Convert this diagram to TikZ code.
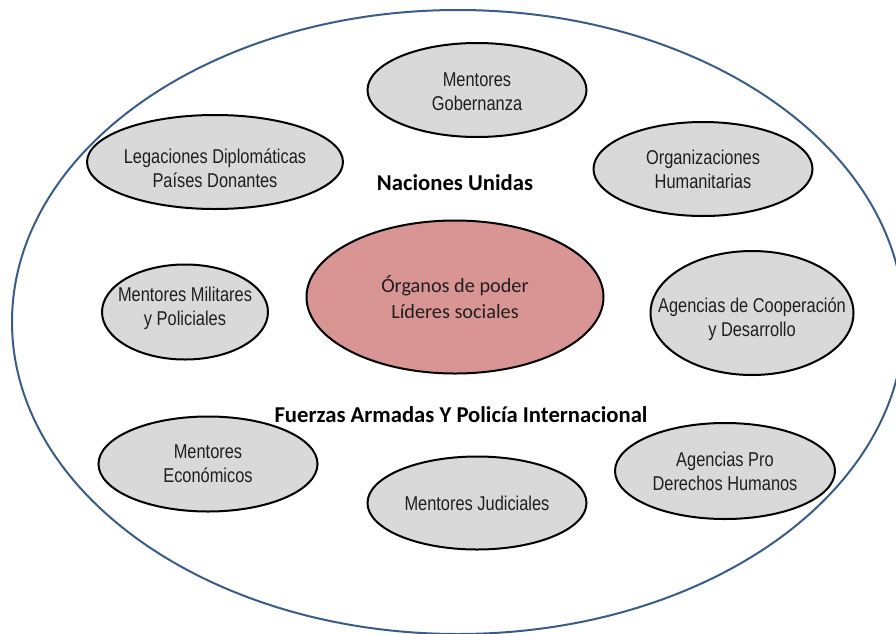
\documentclass[tikz,border=0pt]{standalone}
\usepackage{fontspec}
\usepackage{tikz}
\usetikzlibrary{shapes.geometric}
\newfontfamily\narrowfont{Liberation Sans}[FakeStretch=0.82]
\newfontfamily\calibrifont{Carlito}
\definecolor{marcoazul}{RGB}{56,93,138}
\definecolor{actorgris}{RGB}{217,217,217}
\definecolor{nucleorojo}{RGB}{217,149,148}

\begin{document}
\begin{tikzpicture}[x=0.75pt, y=-0.75pt,
    actor/.style={ellipse, draw=black, line width=1.5pt, fill=actorgris, inner sep=0pt,
                  minimum width=164.25pt, minimum height=70.5pt},
    actortext/.style={align=center, text=black!88, font=\narrowfont\fontsize{15}{18}\selectfont},
    grupo/.style={font=\calibrifont\bfseries\fontsize{17}{20}\selectfont}]
                \useasboundingbox (0,0) rectangle (896,633);
                \draw[marcoazul, line width=1.5pt] (458,322) ellipse [x radius=446, y radius=312];
                \node[actor, label={[actortext, yshift=-1.5pt]center:Mentores\\Gobernanza}] (gobernanza) at (477,90) {};
                \node[actor, minimum width=192pt, label={[actortext, yshift=-4.5pt]center:Legaciones Diplomáticas\\Países Donantes}] (legaciones) at (215,162) {};
                \node[actor, label={[actortext]center:Organizaciones\\Humanitarias}] (humanitarias) at (703,169) {};
                \node[grupo] (onu) at (455,183) {Naciones Unidas};
                \node[actor, fill=nucleorojo, minimum width=222.75pt, minimum height=114.75pt,
                      label={[align=center, text=black!88, font=\calibrifont\fontsize{15.2}{19}\selectfont]center:Órganos de poder\\Líderes sociales}] (nucleo) at (455,297) {};
                \node[actor, minimum width=124.5pt, minimum height=71.25pt, label={[actortext, yshift=3pt]center:Mentores Militares\\y Policiales}] (militares) at (185,312) {};
                \node[actor, minimum width=152.25pt, minimum height=93pt, label={[actortext, yshift=-5pt]center:Agencias de Cooperación\\y Desarrollo}] (cooperacion) at (752,313) {};
                \node[grupo] (fuerzas) at (461,415) {Fuerzas Armadas Y Policía Internacional};
                \node[actor, minimum height=71.25pt, label={[actortext]center:Mentores\\Económicos}] (economicos) at (208,464) {};
                \node[actor, minimum height=69.75pt, label={[actortext]center:Mentores Judiciales}] (judiciales) at (477,503) {};
                \node[actor, minimum width=165pt, minimum height=72pt, label={[actortext]center:Agencias Pro\\Derechos Humanos}] (ddhh) at (725,471) {};
\end{tikzpicture}
\end{document}
